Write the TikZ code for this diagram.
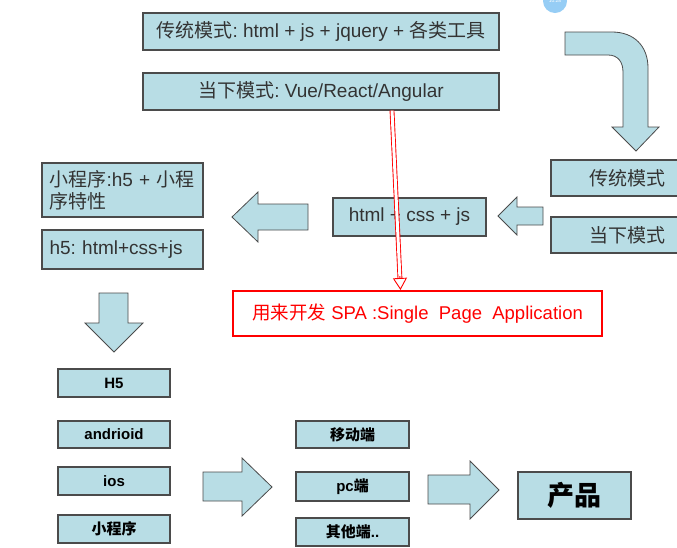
\documentclass[tikz,border=0pt]{standalone}
\usepackage{fontspec}
\setmainfont{Liberation Sans}
\newfontfamily\cjk{Noto Sans CJK SC}
\newcommand\zh[1]{{\cjk #1}}
\frenchspacing
\usetikzlibrary{arrows.meta, calc}

\definecolor{boxblue}{RGB}{184,221,229}
\definecolor{boxline}{RGB}{75,75,75}
\definecolor{clockblue}{RGB}{150,205,245}

\tikzset{
    modebox/.style={draw=boxline, line width=1.2pt, fill=boxblue, inner sep=0pt,
        text=black!80, font=\fontsize{19}{22}\selectfont},
    endbox/.style={modebox, text=black, font=\fontsize{15}{18}\selectfont\bfseries},
    blockarrow/.style={draw=boxline, line width=0.8pt, fill=boxblue, line join=miter},
    spaline/.style={draw=red, double=white, double distance=3pt, line width=0.9pt, shorten >=10pt},
    spahead/.style={draw=red, line width=0.9pt, -{Triangle[open, length=12pt, width=14pt, fill=white]}},
}

\begin{document}
\begin{tikzpicture}[x=1pt, y=-1pt]
    % picture area, in pixels of the screenshot
    \useasboundingbox (0, 0) rectangle (677, 547);
    \clip (0, 0) rectangle (677, 547);

    % clock bubble of the recorder
    \node (clock) [circle, fill=clockblue, minimum size=24, inner sep=0pt, text=white,
        font=\fontsize{5}{5}\selectfont] at (555, 1) {10:28};

    % the two ways of working
    \node (trad) [modebox, minimum width=356, minimum height=37] at (321, 31.5)
        {\zh{传统模式}: html + js + jquery + \zh{各类工具}};
    \node (now) [modebox, minimum width=356, minimum height=37] at (321, 91.5)
        {\zh{当下模式}: Vue/React/Angular};

    % bent arrow down to the right column
    \filldraw[blockarrow] (565, 32) -- (612, 32) .. controls (634, 32) and (648, 46) .. (648, 68)
        -- (648, 127) -- (659, 127) -- (636, 151) -- (612, 127) -- (623, 127) -- (623, 72)
        .. controls (623, 62) and (618, 55) .. (608, 55) -- (565, 55) -- cycle;

    \node (tradR) [modebox, minimum width=153, minimum height=36] at (627.5, 178) {\zh{传统模式}};
    \node (nowR) [modebox, minimum width=153, minimum height=36] at (627.5, 235) {\zh{当下模式}};

    % middle row
    \filldraw[blockarrow] (543, 207) -- (517, 207) -- (517, 197) -- (498, 216) -- (517, 235)
        -- (517, 225) -- (543, 225) -- cycle;
    \node (web) [modebox, minimum width=153, minimum height=38] at (409.5, 217) {html + css + js};
    \filldraw[blockarrow] (308, 204) -- (258, 204) -- (258, 192) -- (232, 217) -- (258, 242)
        -- (258, 230) -- (308, 230) -- cycle;

    \node (mini) [modebox, minimum width=161, minimum height=54, text width=146, align=left]
        at (122.5, 190) {\mbox{\zh{小程序}:h5~+~\zh{小程}}\\\zh{序特性}};
    \node (h5) [modebox, minimum width=161, minimum height=39, text width=146, align=left]
        at (122.5, 249.5) {h5: html+css+js};

    % what the new way is for
    \node (spa) [draw=red, line width=2pt, minimum width=369, minimum height=45, inner sep=0pt,
        text=red, font=\fontsize{18.5}{22}\selectfont] at (417.5, 313.5)
        {\zh{用来开发} SPA :Single\ \ Page\ \ Application};
    \coordinate (spaFrom) at ([xshift=71]now.south);
    \coordinate (spaTo) at ([xshift=-17]spa.north);
    \draw[spaline] (spaFrom) -- (spaTo);
    \draw[spahead] ($(spaTo)!14pt!(spaFrom)$) -- (spaTo);

    % down to the platforms
    \filldraw[blockarrow] (99, 293) -- (128, 293) -- (128, 323) -- (143, 323) -- (114, 352)
        -- (85, 323) -- (99, 323) -- cycle;

    \node (H5box) [endbox, minimum width=112, minimum height=28] at (114, 383) {H5};
    \node (android) [endbox, minimum width=112, minimum height=27] at (114, 434.5) {andrioid};
    \node (ios) [endbox, minimum width=112, minimum height=28] at (114, 481) {ios};
    \node (mp) [endbox, minimum width=112, minimum height=28] at (114, 529) {\zh{小程序}};

    \filldraw[blockarrow] (203, 472) -- (242, 472) -- (242, 458) -- (272, 487) -- (242, 516)
        -- (242, 501) -- (203, 501) -- cycle;

    \node (mobile) [endbox, minimum width=113, minimum height=27] at (352.5, 434.5) {\zh{移动端}};
    \node (pc) [endbox, minimum width=113, minimum height=29] at (352.5, 486.5) {pc\zh{端}};
    \node (other) [endbox, minimum width=113, minimum height=28] at (352.5, 532) {\zh{其他端}..};

    \filldraw[blockarrow] (428, 475) -- (470, 475) -- (470, 461) -- (499, 490) -- (470, 519)
        -- (470, 504) -- (428, 504) -- cycle;

    \node (product) [endbox, minimum width=113, minimum height=47,
        font=\fontsize{27}{30}\selectfont\bfseries] at (574.5, 495.5) {\zh{产品}};
\end{tikzpicture}
\end{document}
